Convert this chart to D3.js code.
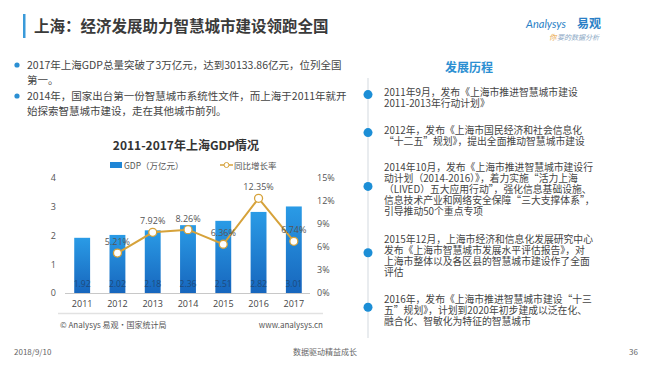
<!DOCTYPE html>
<html><head><meta charset="utf-8">
<script src="https://cdn.jsdelivr.net/npm/d3@7"></script>
<style>
html,body{margin:0;padding:0;background:#fff;}
svg{display:block;font-family:"Noto Sans CJK SC","Noto Sans",sans-serif;}
</style></head>
<body>
<script>
const years = ["2011","2012","2013","2014","2015","2016","2017"];
const gdp = [1.92, 2.02, 2.18, 2.36, 2.51, 2.82, 3.01];
const growth = [null, 5.21, 7.92, 8.26, 6.36, 12.35, 6.74];
const leftTicks = [0,1,2,3,4];
const rightTicks = [0,3,6,9,12,15];
const titleText = "上海：经济发展助力智慧城市建设领跑全国";
const bullets = [
  ["2017年上海GDP总量突破了3万亿元，达到30133.86亿元，位列全国", "第一。"],
  ["2014年，国家出台第一份智慧城市系统性文件，而上海于2011年就开", "始探索智慧城市建设，走在其他城市前列。"]
];
const chartTitle = "2011-2017年上海GDP情况";
const legendLabels = ["GDP（万亿元）", "同比增长率"];
const timelineTitle = "发展历程";
const timeline = [
  ["2011年9月，发布《上海市推进智慧城市建设", "2011-2013年行动计划》"],
  ["2012年，发布《上海市国民经济和社会信息化", "“十二五”规划》，提出全面推动智慧城市建设"],
  ["2014年10月，发布《上海市推进智慧城市建设行", "动计划（2014-2016）》，着力实施“活力上海", "（LIVED）五大应用行动”，强化信息基础设施、", "信息技术产业和网络安全保障“三大支撑体系”，", "引导推动50个重点专项"],
  ["2015年12月，上海市经济和信息化发展研究中心", "发布《上海市智慧城市发展水平评估报告》，对", "上海市整体以及各区县的智慧城市建设作了全面", "评估"],
  ["2016年，发布《上海市推进智慧城市建设“十三", "五”规划》，计划到2020年初步建成以泛在化、", "融合化、智敏化为特征的智慧城市"]
];
const timelineStartY = [92, 130, 167, 239, 299];
const sourceLeft = "© Analysys 易观·国家统计局";
const sourceRight = "www.analysys.cn";
const footer = ["2018/9/10", "数据驱动精益成长", "36"];

const W = 650, H = 366;
const svg = d3.select("body").append("svg").attr("width", W).attr("height", H);
const defs = svg.append("defs");
const grad = defs.append("linearGradient").attr("id","barGrad").attr("x1",0).attr("y1",0).attr("x2",0).attr("y2",1);
grad.append("stop").attr("offset","0%").attr("stop-color","#2a9be6");
grad.append("stop").attr("offset","100%").attr("stop-color","#1766bd");

// Header
svg.append("rect").attr("x",23).attr("y",14).attr("width",2.5).attr("height",24).attr("fill","#3a9ad9");
svg.append("text").attr("x",34).attr("y",32).attr("font-size",15.5).attr("font-weight","bold").attr("fill","#3a3a3a").text(titleText);
// logo
const logo = svg.append("g");
logo.append("text").attr("x",526).attr("y",28).attr("font-size",11).attr("font-style","italic").attr("fill","#2a7fc6").attr("font-family","Lato, sans-serif").text("Analysys");
logo.append("text").attr("x",577).attr("y",28).attr("font-size",12).attr("font-weight","bold").attr("fill","#2a7fc6").text("易观");
logo.append("text").attr("x",549).attr("y",40).attr("font-size",7.5).attr("fill","#e8a33c").attr("font-style","italic").text("你");
logo.append("text").attr("x",557).attr("y",40).attr("font-size",7).attr("fill","#8aa7c4").attr("font-style","italic").text("要的数据分析");

// Bullets
const bulletY = [65, 96];
bullets.forEach((lines, i) => {
  svg.append("circle").attr("cx",17).attr("cy",bulletY[i]).attr("r",2.6).attr("fill","#2b8fd3");
  lines.forEach((ln, j) => {
    svg.append("text").attr("x",27).attr("y",bulletY[i] + 15*j + 3.8).attr("font-size",10.5).attr("fill","#444").text(ln);
  });
});

// Chart
svg.append("text").attr("x",186).attr("y",150).attr("text-anchor","middle").attr("font-size",12).attr("font-weight","bold").attr("fill","#333").text(chartTitle);

const x = d3.scaleBand().domain(years).range([64,312]).paddingInner(0.55).paddingOuter(0.29);
const yL = d3.scaleLinear().domain([0,4]).range([293,178]);
const yR = d3.scaleLinear().domain([0,15]).range([293,178]);

// legend
const lg = svg.append("g");
lg.append("rect").attr("x",110).attr("y",162).attr("width",12).attr("height",6).attr("fill","#1f86d6");
lg.append("text").attr("x",124).attr("y",168.5).attr("font-size",8.5).attr("fill","#555").text(legendLabels[0]);
lg.append("line").attr("x1",220).attr("x2",233).attr("y1",165).attr("y2",165).attr("stroke","#d6a23a").attr("stroke-width",1.5);
lg.append("circle").attr("cx",226.5).attr("cy",165).attr("r",2.5).attr("fill","#fff").attr("stroke","#d6a23a").attr("stroke-width",1);
lg.append("text").attr("x",234).attr("y",168.5).attr("font-size",8.5).attr("fill","#555").text(legendLabels[1]);

// left axis
const axL = d3.axisLeft(yL).tickValues(leftTicks).tickSize(0).tickPadding(0).tickFormat(d3.format("d"));
const gL = svg.append("g").attr("transform","translate(56,0)").call(axL);
gL.select(".domain").remove();
gL.selectAll("text").attr("font-size",9).attr("fill","#555").attr("font-family","'Open Sans','Noto Sans',sans-serif");

// right axis
const axR = d3.axisRight(yR).tickValues(rightTicks).tickSize(0).tickPadding(0).tickFormat(d => d + "%");
const gR = svg.append("g").attr("transform","translate(317,0)").call(axR);
gR.select(".domain").remove();
gR.selectAll("text").attr("font-size",9).attr("fill","#555").attr("font-family","'Open Sans','Noto Sans',sans-serif");

// bars
svg.append("g").selectAll("rect").data(years).join("rect")
  .attr("x", d => x(d)).attr("width", x.bandwidth())
  .attr("y", (d,i) => yL(gdp[i])).attr("height", (d,i) => yL(0) - yL(gdp[i]))
  .attr("fill","url(#barGrad)");

// x axis
const axB = d3.axisBottom(x).tickSize(0).tickPadding(8);
const gB = svg.append("g").attr("transform",`translate(0,${yL(0)})`).call(axB);
gB.select(".domain").attr("stroke","#c8c8c8").attr("d","M65,0.5H310");
gB.selectAll("text").attr("font-size",9).attr("fill","#444").attr("font-family","'Open Sans','Noto Sans',sans-serif");

// bar value labels
svg.append("g").selectAll("text").data(years).join("text")
  .attr("x", d => x(d) + x.bandwidth()/2).attr("y", 286.5)
  .attr("text-anchor","middle").attr("font-size",8.5).attr("fill","#1d4a7c")
  .attr("font-family","'Open Sans','Noto Sans',sans-serif")
  .text((d,i) => gdp[i].toFixed(2));

// growth line
const pts = years.map((d,i) => ({y: d, v: growth[i]})).filter(p => p.v !== null);
const line = d3.line().x(p => x(p.y) + x.bandwidth()/2).y(p => yR(p.v));
svg.append("path").datum(pts).attr("d", line).attr("fill","none").attr("stroke","#d6a23a").attr("stroke-width",2);
svg.append("g").selectAll("circle").data(pts).join("circle")
  .attr("cx", p => x(p.y) + x.bandwidth()/2).attr("cy", p => yR(p.v)).attr("r",4)
  .attr("fill","#fff").attr("stroke","#d6a23a").attr("stroke-width",1.3);
svg.append("g").selectAll("text").data(pts).join("text")
  .attr("x", p => x(p.y) + x.bandwidth()/2).attr("y", p => yR(p.v) - 8)
  .attr("text-anchor","middle").attr("font-size",9).attr("fill","#555")
  .attr("font-family","'Open Sans','Noto Sans',sans-serif")
  .text(p => p.v.toFixed(2) + "%");

// source
svg.append("line").attr("x1",58).attr("x2",323).attr("y1",313.5).attr("y2",313.5).attr("stroke","#e2e2e2").attr("stroke-width",1.5);
svg.append("text").attr("x",60).attr("y",328).attr("font-size",8).attr("fill","#555").text(sourceLeft);
svg.append("text").attr("x",323).attr("y",328).attr("text-anchor","end").attr("font-size",8).attr("fill","#555").text(sourceRight);

// timeline
svg.append("text").attr("x",469).attr("y",72).attr("text-anchor","middle").attr("font-size",12).attr("font-weight","bold").attr("fill","#2c8fd2").text(timelineTitle);
svg.append("line").attr("x1",368).attr("x2",368).attr("y1",78).attr("y2",338).attr("stroke","#e2e6ea").attr("stroke-width",1.5);
timeline.forEach((lines, i) => {
  const y0 = timelineStartY[i];
  const lh = 11.2;
  const cy = y0 + (lines.length - 1) * lh / 2 - 3;
  svg.append("circle").attr("cx",368).attr("cy",cy).attr("r",4.5).attr("fill","#1c8ed6");
  lines.forEach((ln, j) => {
    svg.append("text").attr("x",384).attr("y",y0 + j*lh + 3.5).attr("font-size",9.8).attr("fill","#444").text(ln);
  });
});

// footer
svg.append("text").attr("x",14).attr("y",355).attr("font-size",8).attr("fill","#666").text(footer[0]);
svg.append("text").attr("x",325).attr("y",355).attr("text-anchor","middle").attr("font-size",8).attr("fill","#666").text(footer[1]);
svg.append("text").attr("x",638).attr("y",355).attr("text-anchor","end").attr("font-size",8).attr("fill","#666").text(footer[2]);
</script>
</body></html>
